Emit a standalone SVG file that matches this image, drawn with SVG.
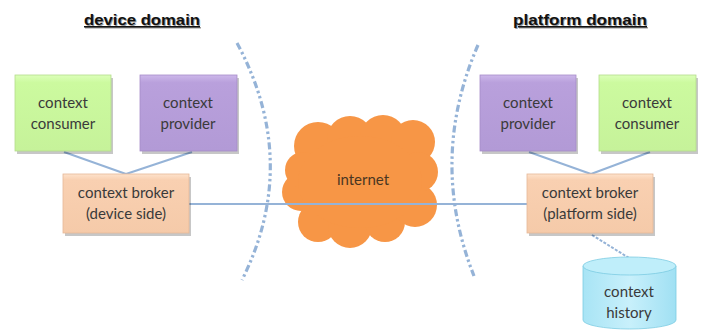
<svg xmlns="http://www.w3.org/2000/svg" width="705" height="331" viewBox="0 0 705 331">
<defs>
<style>
.lbl{font-family:Lato,"Open Sans","Liberation Sans",sans-serif;font-size:15px;fill:#3a3a3a;text-anchor:middle}
.title{font-family:"Liberation Sans",Arial,sans-serif;font-size:15px;font-weight:bold;fill:#111;text-decoration:underline}
.tshadow{font-family:"Liberation Sans",Arial,sans-serif;font-size:15px;font-weight:bold;fill:#9a9a9a;text-decoration:underline}
.edge{stroke:#95b3d7;stroke-width:2;fill:none}
.arc{stroke:#95b3d7;stroke-width:3.2;fill:none;stroke-dasharray:7 3 2.5 3 2.5 3}
.shadow{fill:#000;opacity:0.22}
</style>
<linearGradient id="gGreen" x1="0" y1="0" x2="0" y2="1">
<stop offset="0" stop-color="#dcffba"/><stop offset="0.1" stop-color="#ccfa9f"/><stop offset="1" stop-color="#c6f29a"/>
</linearGradient>
<linearGradient id="gPurple" x1="0" y1="0" x2="0" y2="1">
<stop offset="0" stop-color="#cdb8ea"/><stop offset="0.1" stop-color="#b9a0dc"/><stop offset="1" stop-color="#b29ad6"/>
</linearGradient>
<linearGradient id="gPeach" x1="0" y1="0" x2="0" y2="1">
<stop offset="0" stop-color="#fde2cc"/><stop offset="0.1" stop-color="#f9d0b1"/><stop offset="1" stop-color="#f5caa9"/>
</linearGradient>
<linearGradient id="gCyl" x1="0" y1="0" x2="1" y2="0">
<stop offset="0" stop-color="#a8e4f5"/><stop offset="0.5" stop-color="#c8f0fb"/><stop offset="1" stop-color="#a0e0f3"/>
</linearGradient>
</defs>

<g id="titles">
<text class="tshadow" x="85" y="26" textLength="116" lengthAdjust="spacingAndGlyphs">device domain</text>
<text class="title" x="84" y="25" textLength="116" lengthAdjust="spacingAndGlyphs">device domain</text>
<text class="tshadow" x="514" y="26" textLength="134" lengthAdjust="spacingAndGlyphs">platform domain</text>
<text class="title" x="513" y="25" textLength="134" lengthAdjust="spacingAndGlyphs">platform domain</text>
</g>

<g id="domain-boundaries">
<path class="arc" d="M237,43 Q301,162 242,280"/>
<path class="arc" d="M478,45 Q428,160 474,276"/>
</g>

<g id="internet">
<g fill="#f79646">
<circle cx="318" cy="146" r="24"/>
<circle cx="350" cy="139" r="23"/>
<circle cx="383" cy="138" r="23"/>
<circle cx="413" cy="142" r="22"/>
<circle cx="301" cy="192" r="19"/>
<circle cx="303" cy="170" r="18"/>
<circle cx="318" cy="222" r="20"/>
<circle cx="350" cy="226" r="22"/>
<circle cx="385" cy="222" r="20"/>
<circle cx="415" cy="205" r="22"/>
<circle cx="418" cy="172" r="20"/>
<ellipse cx="360" cy="182" rx="62" ry="46"/>
</g>
<text class="lbl" x="363" y="185" style="fill:#4a3622">internet</text>
</g>

<g id="connectors">
<line class="edge" x1="64" y1="152" x2="126" y2="174"/>
<line class="edge" x1="192" y1="152" x2="126" y2="174"/>
<line class="edge" x1="529" y1="152" x2="591" y2="174"/>
<line class="edge" x1="650" y1="152" x2="591" y2="174"/>
<line class="edge" x1="189" y1="204" x2="527" y2="204" stroke="#8faad0"/>
<line class="edge" x1="592" y1="235" x2="629" y2="258" stroke-dasharray="3 1.5"/>
</g>

<g id="consumer-device">
<rect class="shadow" x="17" y="78" width="96" height="76"/>
<rect x="15" y="75" width="96" height="76" fill="url(#gGreen)" stroke="#b5dc8c" stroke-width="0.8"/>
<text class="lbl" x="63" y="108">context</text>
<text class="lbl" x="63" y="129">consumer</text>
</g>

<g id="provider-device">
<rect class="shadow" x="142" y="78" width="97" height="76"/>
<rect x="140" y="75" width="97" height="76" fill="url(#gPurple)" stroke="#a58cc8" stroke-width="0.8"/>
<text class="lbl" x="188" y="108">context</text>
<text class="lbl" x="188" y="129">provider</text>
</g>

<g id="broker-device">
<rect class="shadow" x="65" y="177" width="126" height="59"/>
<rect x="63" y="174" width="126" height="59" fill="url(#gPeach)" stroke="#e5b898" stroke-width="0.8"/>
<text class="lbl" x="126" y="198">context broker</text>
<text class="lbl" x="126" y="219">(device side)</text>
</g>

<g id="provider-platform">
<rect class="shadow" x="482" y="78" width="96" height="76"/>
<rect x="480" y="75" width="96" height="76" fill="url(#gPurple)" stroke="#a58cc8" stroke-width="0.8"/>
<text class="lbl" x="528" y="108">context</text>
<text class="lbl" x="528" y="129">provider</text>
</g>

<g id="consumer-platform">
<rect class="shadow" x="601" y="78" width="97" height="76"/>
<rect x="599" y="75" width="97" height="76" fill="url(#gGreen)" stroke="#b5dc8c" stroke-width="0.8"/>
<text class="lbl" x="647" y="108">context</text>
<text class="lbl" x="647" y="129">consumer</text>
</g>

<g id="broker-platform">
<rect class="shadow" x="529" y="177" width="126" height="59"/>
<rect x="527" y="174" width="126" height="59" fill="url(#gPeach)" stroke="#e5b898" stroke-width="0.8"/>
<text class="lbl" x="590" y="198">context broker</text>
<text class="lbl" x="590" y="219">(platform side)</text>
</g>

<g id="context-history">
<path d="M583,266 L583,320 A46.5,9 0 0 0 676,320 L676,266 Z" fill="url(#gCyl)" stroke="#7ccbe2" stroke-width="0.8"/>
<ellipse cx="629.5" cy="266" rx="46.5" ry="9" fill="#bfeefa" stroke="#7ccbe2" stroke-width="0.8"/>
<text class="lbl" x="629" y="297">context</text>
<text class="lbl" x="629" y="318">history</text>
</g>
</svg>
